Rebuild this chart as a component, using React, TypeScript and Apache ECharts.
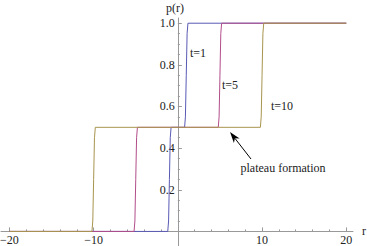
import React, { useEffect, useRef } from "react";
import * as echarts from "echarts";

// r positions and p(r) values, one pair of arrays per curve
const rT1 = [-20, -1.2, -1.1, -1.0, -0.9, -0.8, 0.8, 0.9, 1.0, 1.1, 1.2, 20];
const pT1 = [0, 0, 0.05, 0.25, 0.45, 0.5, 0.5, 0.55, 0.75, 0.95, 1, 1];
const rT5 = [-20, -5.2, -5.1, -5.0, -4.9, -4.8, 4.8, 4.9, 5.0, 5.1, 5.2, 20];
const pT5 = [0, 0, 0.05, 0.25, 0.45, 0.5, 0.5, 0.55, 0.75, 0.95, 1, 1];
const rT10 = [-20, -10.2, -10.1, -10.0, -9.9, -9.8, 9.8, 9.9, 10.0, 10.1, 10.2, 20];
const pT10 = [0, 0, 0.05, 0.25, 0.45, 0.5, 0.5, 0.55, 0.75, 0.95, 1, 1];

const seriesNames = ["t=1", "t=5", "t=10"];
const seriesColors = ["#5a5ab6", "#b24e8a", "#a8954e"];

const xLabelValues = [-20, -10, 10, 20];
const xMajorTicks = [-20, -10, 10, 20];
const xMinorTicks = [-18, -16, -14, -12, -8, -6, -4, -2, 2, 4, 6, 8, 12, 14, 16, 18];
const yLabelValues = [0.2, 0.4, 0.6, 0.8, 1.0];
const yMinorTicks = [0.05, 0.1, 0.15, 0.25, 0.3, 0.35, 0.45, 0.5, 0.55, 0.65, 0.7, 0.75, 0.85, 0.9, 0.95];

const FONT = "Liberation Serif";
const AXIS_COLOR = "#999999";
const TEXT_COLOR = "#222222";

export default function App() {
  const ref = useRef<HTMLDivElement>(null);
  useEffect(() => {
    document.body.style.margin = "0";
    const chart = echarts.init(ref.current!, undefined, { renderer: "svg" });
    const zip = (xs: number[], ys: number[]) => xs.map((x, i) => [x, ys[i]]);
    const curves = [zip(rT1, pT1), zip(rT5, pT5), zip(rT10, pT10)];

    const X_MIN = -21, X_MAX = 20.8, Y_MIN = -0.07, Y_MAX = 1.025;
    const LEFT = 1, TOP = 18, W = 352, H = 228;
    const zeroX = LEFT + ((0 - X_MIN) * W) / (X_MAX - X_MIN);
    const zeroY = TOP + ((Y_MAX - 0) * H) / (Y_MAX - Y_MIN);

    const gridPlot = { left: LEFT, top: TOP, width: W, height: H, outerBoundsMode: "none" };
    const gridY = { left: zeroX, top: TOP, width: 100, height: H, outerBoundsMode: "none" };
    const gridX = { left: LEFT, top: TOP, width: W, height: zeroY - TOP, outerBoundsMode: "none" };

    const hidden = { type: "value", show: false };

    const tip = [230, 132];
    const tail = [251, 159];
    const dx = tip[0] - tail[0];
    const dy = tip[1] - tail[1];
    const len = Math.hypot(dx, dy);
    const ux = dx / len, uy = dy / len;
    const px = -uy, py = ux;
    const headLen = 11, halfW = 3.6;
    const bx = tip[0] - ux * headLen, by = tip[1] - uy * headLen;
    const nx = tip[0] - ux * (headLen - 3), ny = tip[1] - uy * (headLen - 3);

    const txt = (x: number, y: number, s: string, size = 12) => ({
      type: "text",
      x,
      y,
      style: {
        text: s,
        fill: TEXT_COLOR,
        font: `${size}px "${FONT}"`,
        align: "center",
        verticalAlign: "middle",
      },
      z: 100,
    });

    const labelStyle = { color: TEXT_COLOR, fontFamily: FONT, fontSize: 12 };

    chart.setOption({
      animation: false,
      backgroundColor: "#ffffff",
      grid: [gridPlot, gridY, gridX],
      xAxis: [
        { ...hidden, gridIndex: 0, min: X_MIN, max: X_MAX },
        { ...hidden, gridIndex: 1, min: 0, max: 1 },
        {
          type: "value",
          gridIndex: 2,
          position: "bottom",
          min: X_MIN,
          max: X_MAX,
          axisLine: { show: true, onZero: false, lineStyle: { color: AXIS_COLOR, width: 1 } },
          axisTick: { show: true, inside: true, length: 4, customValues: xMajorTicks, lineStyle: { color: AXIS_COLOR } },
          axisLabel: {
            show: true,
            customValues: xLabelValues,
            margin: 3,
            ...labelStyle,
            formatter: (v: number) => String(v).replace("-", "\u2212"),
          },
          splitLine: { show: false },
        },
        {
          type: "value",
          gridIndex: 2,
          position: "bottom",
          min: X_MIN,
          max: X_MAX,
          axisLine: { show: false, onZero: false },
          axisTick: { show: true, inside: true, length: 2, customValues: xMinorTicks, lineStyle: { color: AXIS_COLOR } },
          axisLabel: { show: false },
          splitLine: { show: false },
        },
      ],
      yAxis: [
        { ...hidden, gridIndex: 0, min: Y_MIN, max: Y_MAX },
        {
          type: "value",
          gridIndex: 1,
          position: "left",
          min: Y_MIN,
          max: Y_MAX,
          axisLine: { show: true, onZero: false, lineStyle: { color: AXIS_COLOR, width: 1 } },
          axisTick: { show: true, inside: true, length: 4, customValues: yLabelValues, lineStyle: { color: AXIS_COLOR } },
          axisLabel: {
            show: true,
            customValues: yLabelValues,
            margin: 3,
            ...labelStyle,
            formatter: (v: number) => v.toFixed(1),
          },
          splitLine: { show: false },
        },
        {
          type: "value",
          gridIndex: 1,
          position: "left",
          min: Y_MIN,
          max: Y_MAX,
          axisLine: { show: false, onZero: false },
          axisTick: { show: true, inside: true, length: 2, customValues: yMinorTicks, lineStyle: { color: AXIS_COLOR } },
          axisLabel: { show: false },
          splitLine: { show: false },
        },
        { ...hidden, gridIndex: 2, min: 0, max: 1 },
      ],
      series: curves.map((d, i) => ({
        type: "line",
        name: seriesNames[i],
        xAxisIndex: 0,
        yAxisIndex: 0,
        data: d,
        symbol: "none",
        showSymbol: false,
        smooth: false,
        clip: false,
        lineStyle: { color: seriesColors[i], width: 1 },
        z: 3 + i,
      })),
      graphic: [
        txt(175, 8, "p(r)"),
        txt(364, 231, "r"),
        txt(198, 53, seriesNames[0]),
        txt(230, 85, seriesNames[1]),
        txt(282, 106, seriesNames[2]),
        txt(283, 168, "plateau formation"),
        {
          type: "line",
          shape: { x1: tail[0], y1: tail[1], x2: nx, y2: ny },
          style: { stroke: "#000000", lineWidth: 1 },
          z: 100,
        },
        {
          type: "polygon",
          shape: {
            points: [
              [tip[0], tip[1]],
              [bx + px * halfW, by + py * halfW],
              [nx, ny],
              [bx - px * halfW, by - py * halfW],
            ],
          },
          style: { fill: "#000000" },
          z: 100,
        },
      ],
    });
    return () => chart.dispose();
  }, []);
  return <div ref={ref} style={{ position: "absolute", left: 0, top: 0, width: 367, height: 246 }} />;
}
